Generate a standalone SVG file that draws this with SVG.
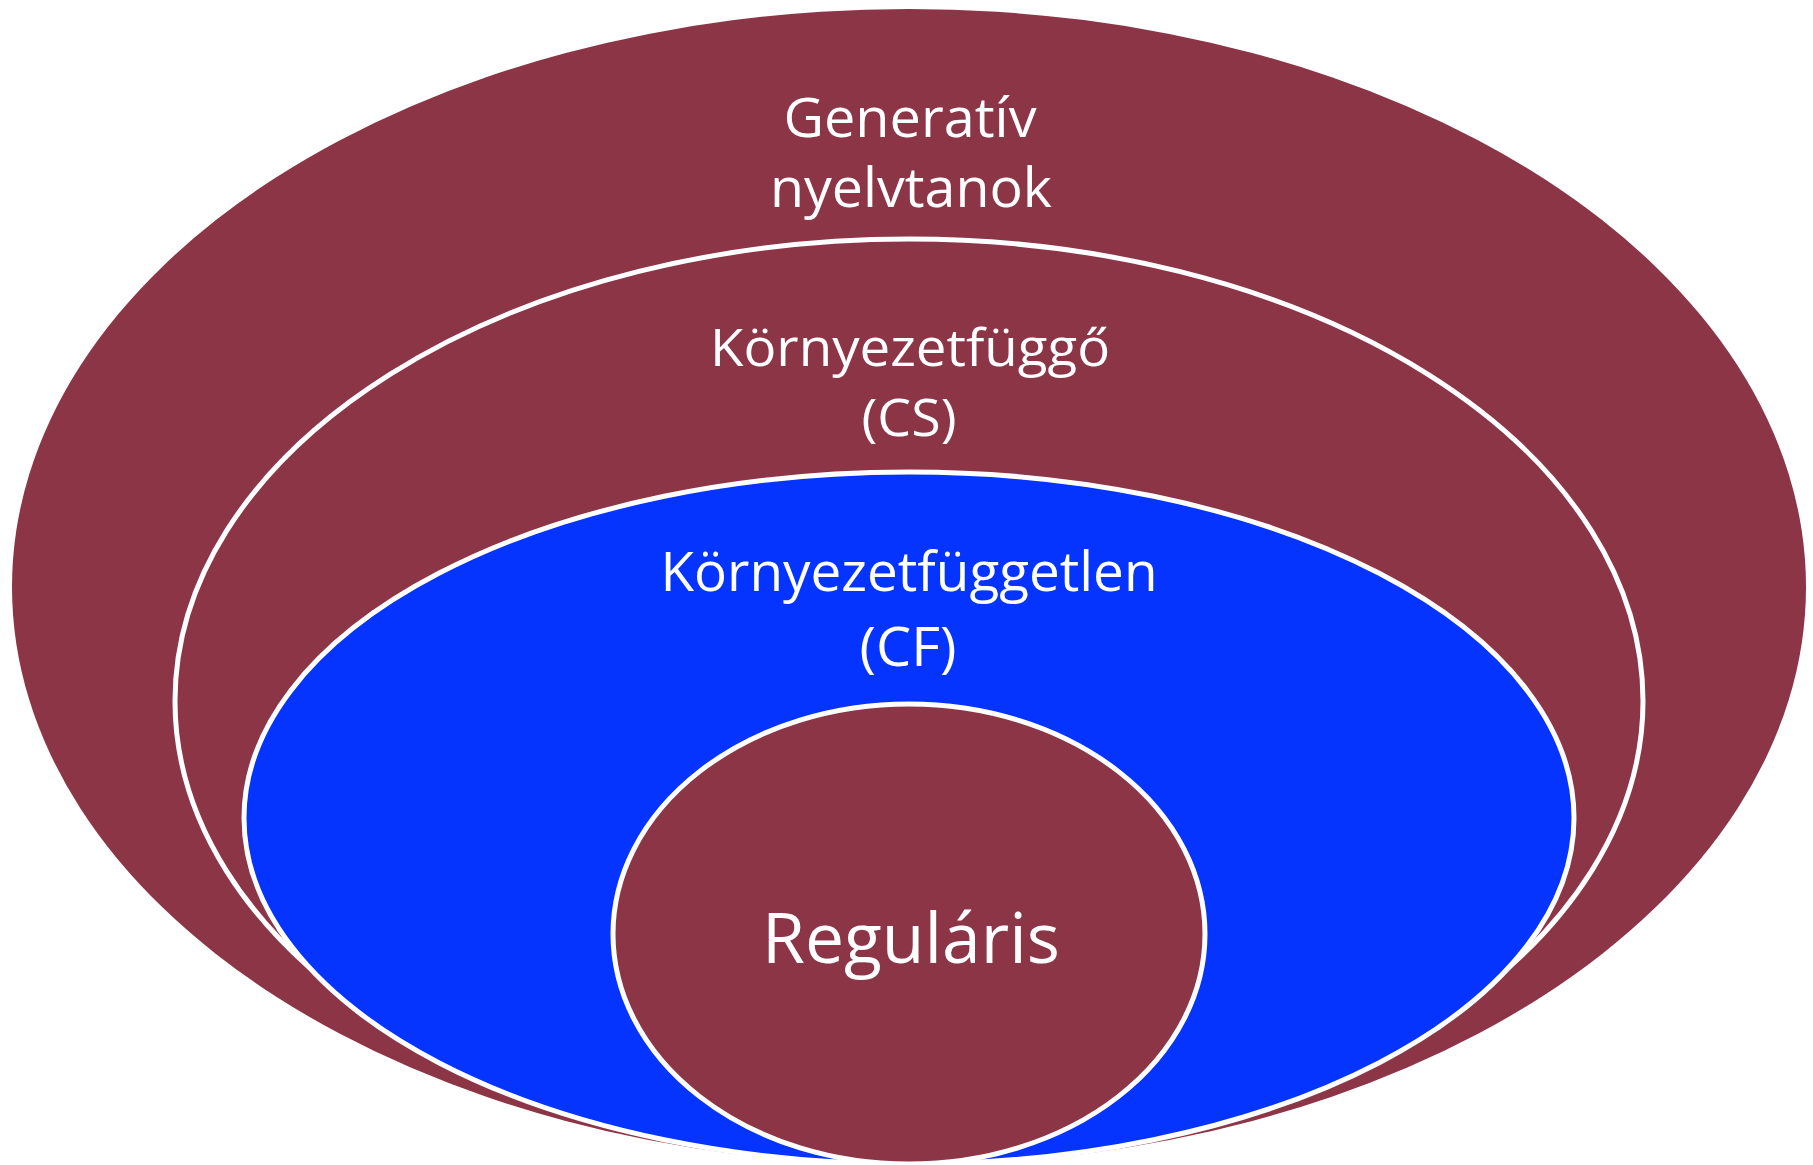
<svg xmlns="http://www.w3.org/2000/svg" width="1813" height="1165" viewBox="0 0 1813 1165">
  <style>
    .maroon { fill: #8B3547; }
    .blue { fill: #0533FF; }
    .ring { stroke: #FFFFFF; stroke-width: 5; }
    .lbl { fill: #FFFFFF; font-family: "Open Sans", "Liberation Sans", sans-serif; text-anchor: middle; }
    .mid { font-size: 54px; }
    .tight { font-size: 51px; }
    .big { font-size: 70px; }
  </style>
  <rect width="1813" height="1165" fill="#FFFFFF"/>

  <!-- Generative grammars: outermost set -->
  <g id="generativ">
    <ellipse class="maroon" cx="909" cy="587" rx="897" ry="578"/>
    <text class="lbl mid" x="910" y="137" textLength="253" lengthAdjust="spacingAndGlyphs">Generatív</text>
    <text class="lbl mid" x="911" y="207" textLength="282" lengthAdjust="spacingAndGlyphs">nyelvtanok</text>
  </g>

  <!-- Context-sensitive -->
  <g id="cs">
    <ellipse class="maroon ring" cx="909" cy="701" rx="734" ry="462"/>
    <text class="lbl tight" x="910" y="366" textLength="400" lengthAdjust="spacingAndGlyphs">Környezetfüggő</text>
    <text class="lbl tight" x="909" y="436" textLength="95" lengthAdjust="spacingAndGlyphs">(CS)</text>
  </g>

  <!-- Context-free -->
  <g id="cf">
    <ellipse class="blue ring" cx="909" cy="818" rx="665" ry="346"/>
    <text class="lbl mid" x="909" y="591" textLength="497" lengthAdjust="spacingAndGlyphs">Környezetfüggetlen</text>
    <text class="lbl mid" x="908" y="666" textLength="97" lengthAdjust="spacingAndGlyphs">(CF)</text>
  </g>

  <!-- Regular -->
  <g id="regularis">
    <ellipse class="maroon ring" cx="909" cy="934" rx="296" ry="230"/>
    <text class="lbl big" x="911" y="963" textLength="298" lengthAdjust="spacingAndGlyphs">Reguláris</text>
  </g>

  <g id="connectors"/>
</svg>
